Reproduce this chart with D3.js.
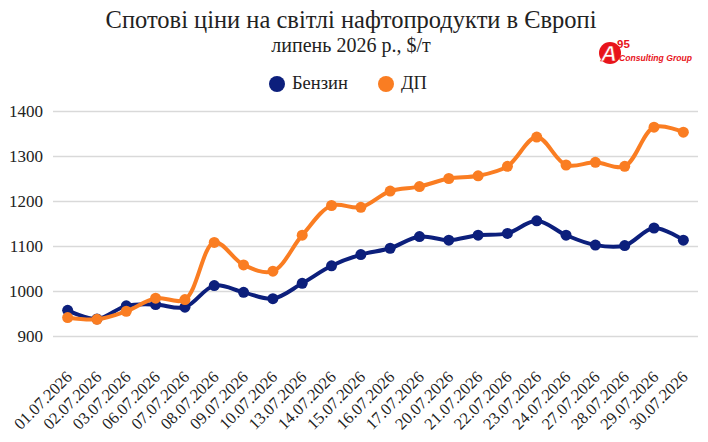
<!DOCTYPE html>
<html>
<head>
<meta charset="utf-8">
<script src="https://cdn.jsdelivr.net/npm/d3@7"></script>
<style>
  body { margin: 0; background: #fff; }
  svg { display: block; font-family: "Liberation Serif", "DejaVu Serif", serif; }
</style>
</head>
<body>
<div id="chart"></div>
<script>
"use strict";

// dates on the axis
var dates = ["01.07.2026", "02.07.2026", "03.07.2026", "06.07.2026", "07.07.2026",
  "08.07.2026", "09.07.2026", "10.07.2026", "13.07.2026", "14.07.2026", "15.07.2026",
  "16.07.2026", "17.07.2026", "20.07.2026", "21.07.2026", "22.07.2026", "23.07.2026",
  "24.07.2026", "27.07.2026", "28.07.2026", "29.07.2026", "30.07.2026"];

// $/t
var benzin = [957, 938, 967, 970, 964, 1012, 997, 983, 1017, 1056, 1081,
  1095, 1121, 1113, 1124, 1128, 1156, 1124, 1102, 1101, 1140, 1113];
var dp = [941, 937, 955, 984, 981, 1108, 1058, 1044, 1124, 1190, 1186,
  1222, 1232, 1250, 1256, 1277, 1342, 1280, 1286, 1277, 1364, 1353];

var yTicks = [900, 1000, 1100, 1200, 1300, 1400];

var seriesNames = ["Бензин", "ДП"];
var seriesColors = ["#0c1f7c", "#fa7d22"];

(function() {
  var width = 708, height = 442;
  var plotLeft = 53, plotRight = 698, plotTop = 111, plotBottom = 336;
  var serif = "'Liberation Serif', serif";

  var svg = d3.select("#chart").append("svg")
    .attr("width", width)
    .attr("height", height);

  // titles
  svg.append("text")
    .attr("x", 351).attr("y", 28)
    .attr("text-anchor", "middle")
    .attr("font-family", serif)
    .attr("font-size", 24.5)
    .attr("fill", "#222")
    .text("Спотові ціни на світлі нафтопродукти в Європі");

  svg.append("text")
    .attr("x", 351).attr("y", 52)
    .attr("text-anchor", "middle")
    .attr("font-family", serif)
    .attr("font-size", 20)
    .attr("fill", "#222")
    .text("липень 2026 р., $/т");

  // logo
  var logo = svg.append("g").attr("transform", "translate(610,53)");
  logo.append("circle").attr("r", 11).attr("fill", "#e8141b");
  logo.append("text")
    .attr("x", -9).attr("y", 8)
    .attr("font-family", "'Liberation Sans', sans-serif")
    .attr("font-weight", "bold").attr("font-style", "italic")
    .attr("font-size", 22).attr("fill", "#fff")
    .attr("stroke", "#e8141b").attr("stroke-width", 0.6)
    .text("A");
  logo.append("text")
    .attr("x", 7).attr("y", -5)
    .attr("font-family", "'Liberation Sans', sans-serif")
    .attr("font-weight", "bold")
    .attr("font-size", 11.5).attr("fill", "#e8141b")
    .text("95");
  logo.append("text")
    .attr("x", 9).attr("y", 8)
    .attr("font-family", "'Liberation Sans', sans-serif")
    .attr("font-weight", "bold").attr("font-style", "italic")
    .attr("font-size", 9.5).attr("fill", "#e8141b")
    .attr("textLength", 73).attr("lengthAdjust", "spacingAndGlyphs")
    .text("Consulting Group");

  // legend
  var legend = svg.append("g");
  var legendX = [277, 386];
  seriesNames.forEach(function(name, i) {
    legend.append("circle")
      .attr("cx", legendX[i]).attr("cy", 84).attr("r", 8)
      .attr("fill", seriesColors[i]);
    legend.append("text")
      .attr("x", legendX[i] + 15).attr("y", 89)
      .attr("font-family", serif)
      .attr("font-size", 18.5).attr("fill", "#222")
      .text(name);
  });

  // scales
  var x = d3.scalePoint()
    .domain(dates)
    .range([plotLeft, plotRight])
    .padding(0.5);

  var y = d3.scaleLinear()
    .domain([900, 1400])
    .range([plotBottom, plotTop]);

  // grid + y labels
  var yAxis = svg.append("g")
    .attr("transform", "translate(" + plotLeft + ",0)")
    .call(d3.axisLeft(y).tickValues(yTicks).tickSize(-(plotRight - plotLeft)).tickFormat(d3.format("d")));
  yAxis.select(".domain").remove();
  yAxis.selectAll(".tick line").attr("stroke", "#d9d9d9").attr("stroke-width", 1.3);
  yAxis.selectAll(".tick text")
    .attr("x", -10)
    .attr("font-family", serif)
    .attr("font-size", 17)
    .attr("fill", "#222");

  // x labels
  var xAxis = svg.append("g")
    .attr("transform", "translate(0," + plotBottom + ")")
    .call(d3.axisBottom(x).tickSize(0));
  xAxis.select(".domain").remove();
  xAxis.selectAll(".tick text")
    .attr("font-family", serif)
    .attr("font-size", 16.5)
    .attr("fill", "#222")
    .attr("text-anchor", "end")
    .attr("y", 0)
    .attr("dy", 0)
    .attr("transform", "translate(5,42) rotate(-45)");

  // lines
  var line = d3.line()
    .x(function(d, i) { return x(dates[i]); })
    .y(function(d) { return y(d); })
    .curve(d3.curveCatmullRom.alpha(0.5));

  [benzin, dp].forEach(function(values, s) {
    var g = svg.append("g");
    g.append("path")
      .datum(values)
      .attr("d", line)
      .attr("fill", "none")
      .attr("stroke", seriesColors[s])
      .attr("stroke-width", 4)
      .attr("stroke-linejoin", "round");
    g.selectAll("circle")
      .data(values)
      .join("circle")
      .attr("cx", function(d, i) { return x(dates[i]); })
      .attr("cy", function(d) { return y(d); })
      .attr("r", 5.5)
      .attr("fill", seriesColors[s]);
  });
})();
</script>
</body>
</html>
